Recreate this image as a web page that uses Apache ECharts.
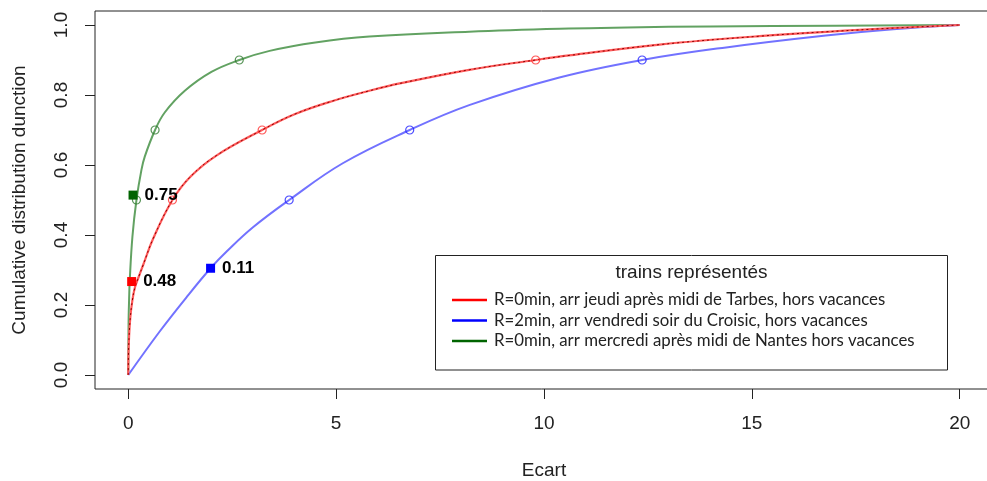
<!DOCTYPE html>
<html>
<head>
<meta charset="utf-8">
<script src="https://cdn.jsdelivr.net/npm/echarts@6/dist/echarts.min.js"></script>
<style>
html,body{margin:0;padding:0;background:#fff;}
#chart{width:987px;height:481px;}
</style>
</head>
<body>
<div id="chart"></div>
<script>
// ---- data ----
const xTicks = [0, 5, 10, 15, 20];
const yTicks = [0, 0.2, 0.4, 0.6, 0.8, 1.0];

const greenX = [0, 0.005, 0.01, 0.02, 0.036, 0.1, 0.197, 0.317, 0.397, 0.645, 0.877, 1.36, 2.0, 2.67, 3.4, 4.5, 5.8, 8.2, 10.6, 12, 14, 17, 20];
const greenP = [0, 0.12, 0.17, 0.214, 0.271, 0.395, 0.5, 0.586, 0.624, 0.7, 0.75, 0.812, 0.866, 0.9, 0.926, 0.95, 0.967, 0.981, 0.99, 0.993, 0.996, 0.998, 1.0];

const redX = [0, 0.005, 0.02, 0.05, 0.1, 0.16, 0.25, 0.36, 0.6, 1.063, 1.5, 2.12, 3.22, 4.0, 4.92, 5.8, 6.53, 8.2, 9.8, 10.6, 12.78, 15.18, 17.58, 20];
const redP = [0, 0.06, 0.11, 0.165, 0.214, 0.25, 0.28, 0.315, 0.39, 0.5, 0.567, 0.627, 0.7, 0.745, 0.783, 0.812, 0.833, 0.872, 0.9, 0.913, 0.944, 0.968, 0.986, 1.0];

const blueX = [0, 0.76, 1.4, 1.98, 2.36, 3.0, 3.87, 5.16, 6.77, 8.2, 10.37, 12.36, 14.38, 16.78, 18.4, 20];
const blueP = [0, 0.125, 0.222, 0.305, 0.352, 0.422, 0.5, 0.605, 0.7, 0.771, 0.85, 0.9, 0.936, 0.97, 0.988, 1.0];

// open-circle quantile markers
const greenQX = [0.197, 0.645, 2.67];
const redQX = [1.063, 3.22, 9.8];
const blueQX = [3.87, 6.77, 12.36];
const quantP = [0.5, 0.7, 0.9];

// filled square markers with their labels
const squareX = [0.115, 0.082, 1.98];
const squareP = [0.514, 0.267, 0.305];
const squareLabels = ['0.75', '0.48', '0.11'];

const legendTitle = 'trains représentés';
const legendNames = [
  'R=0min, arr jeudi après midi de Tarbes, hors vacances',
  'R=2min, arr vendredi soir du Croisic, hors vacances',
  'R=0min, arr mercredi après midi de Nantes hors vacances'
];
const xName = 'Ecart';
const yName = 'Cumulative distribution dunction';

// ---- build ----
const zip = (xs, ys) => xs.map((x, i) => [x, ys[i]]);
const FONT = '"Liberation Sans", Arial, sans-serif';

const chart = echarts.init(document.getElementById('chart'), null, {renderer: 'canvas'});

const squareColors = ['#006400', '#ff0000', '#0000ff'];

const lineBase = {type: 'line', showSymbol: false, smooth: 0.4, silent: true, z: 2};
const circleBase = {type: 'scatter', symbol: 'circle', symbolSize: 8, silent: true, z: 4};

const option = {
  animation: false,
  backgroundColor: '#ffffff',
  grid: {left: 95, right: -6, top: 11, bottom: 92, show: true, borderColor: '#222', borderWidth: 1,
    backgroundColor: 'transparent', containLabel: false, outerBoundsMode: 'none'},
  xAxis: {
    type: 'value', min: -0.8, max: 20.8,
    name: xName, nameLocation: 'middle', nameGap: 72,
    nameTextStyle: {fontFamily: FONT, fontSize: 19, color: '#222'},
    axisLine: {show: false, onZero: false},
    splitLine: {show: false},
    axisTick: {show: true, length: 10, customValues: xTicks, lineStyle: {color: '#222', width: 1}},
    axisLabel: {customValues: xTicks, fontFamily: FONT, fontSize: 19, color: '#222', margin: 25}
  },
  yAxis: {
    type: 'value', min: -0.04, max: 1.04,
    name: yName, nameLocation: 'middle', nameGap: 66, nameRotate: 90,
    nameTextStyle: {fontFamily: FONT, fontSize: 19, color: '#222'},
    axisLine: {show: false, onZero: false},
    splitLine: {show: false},
    axisTick: {show: true, length: 10, customValues: yTicks, lineStyle: {color: '#222', width: 1}},
    axisLabel: {customValues: yTicks, rotate: 90, fontFamily: FONT, fontSize: 19, color: '#222', margin: 24,
      formatter: v => v.toFixed(1)}
  },
  series: [
    Object.assign({}, lineBase, {data: zip(greenX, greenP), lineStyle: {color: '#62a262', width: 2}}),
    Object.assign({}, lineBase, {data: zip(blueX, blueP), lineStyle: {color: '#7272ff', width: 2}}),
    Object.assign({}, lineBase, {data: zip(redX, redP), lineStyle: {color: '#ff5a5a', width: 2.2}}),
    Object.assign({}, lineBase, {data: zip(redX, redP), lineStyle: {color: '#8a0000', width: 1, type: [2, 3]}, z: 3}),
    Object.assign({}, circleBase, {data: zip(greenQX, quantP), itemStyle: {color: 'rgba(0,0,0,0)', borderColor: '#2f7a2f', borderWidth: 1.2}}),
    Object.assign({}, circleBase, {data: zip(redQX, quantP), itemStyle: {color: 'rgba(0,0,0,0)', borderColor: '#ff3030', borderWidth: 1.2}}),
    Object.assign({}, circleBase, {data: zip(blueQX, quantP), itemStyle: {color: 'rgba(0,0,0,0)', borderColor: '#2020ff', borderWidth: 1.2}}),
    {
      type: 'scatter', symbol: 'rect', symbolSize: 9, silent: true, z: 5,
      data: squareX.map((x, i) => ({
        value: [x, squareP[i]],
        itemStyle: {color: squareColors[i], opacity: 1},
        label: {formatter: squareLabels[i]}
      })),
      label: {show: true, position: 'right', distance: 7, fontFamily: FONT, fontWeight: 'bold', fontSize: 17, color: '#000'}
    }
  ],
  graphic: {
    elements: [
      {type: 'rect', shape: {x: 435.5, y: 255.5, width: 512, height: 114.5}, style: {fill: '#fff', stroke: '#222', lineWidth: 1}, z: 10},
      {type: 'text', x: 691.5, y: 273, style: {text: legendTitle, font: '19px ' + FONT, fill: '#222', align: 'center', verticalAlign: 'middle'}, z: 11},
      ...legendNames.flatMap((name, i) => {
        const y = 300 + i * 20.5;
        const col = ['#ff0000', '#0000ff', '#006400'][i];
        return [
          {type: 'line', shape: {x1: 452, y1: y, x2: 487, y2: y}, style: {stroke: col, lineWidth: 2.5}, z: 11},
          {type: 'text', x: 494, y: y, style: {text: name, font: '16.8px Lato, "Noto Sans", sans-serif', fill: '#222', align: 'left', verticalAlign: 'middle'}, z: 11}
        ];
      })
    ]
  }
};
chart.setOption(option);
</script>
</body>
</html>
